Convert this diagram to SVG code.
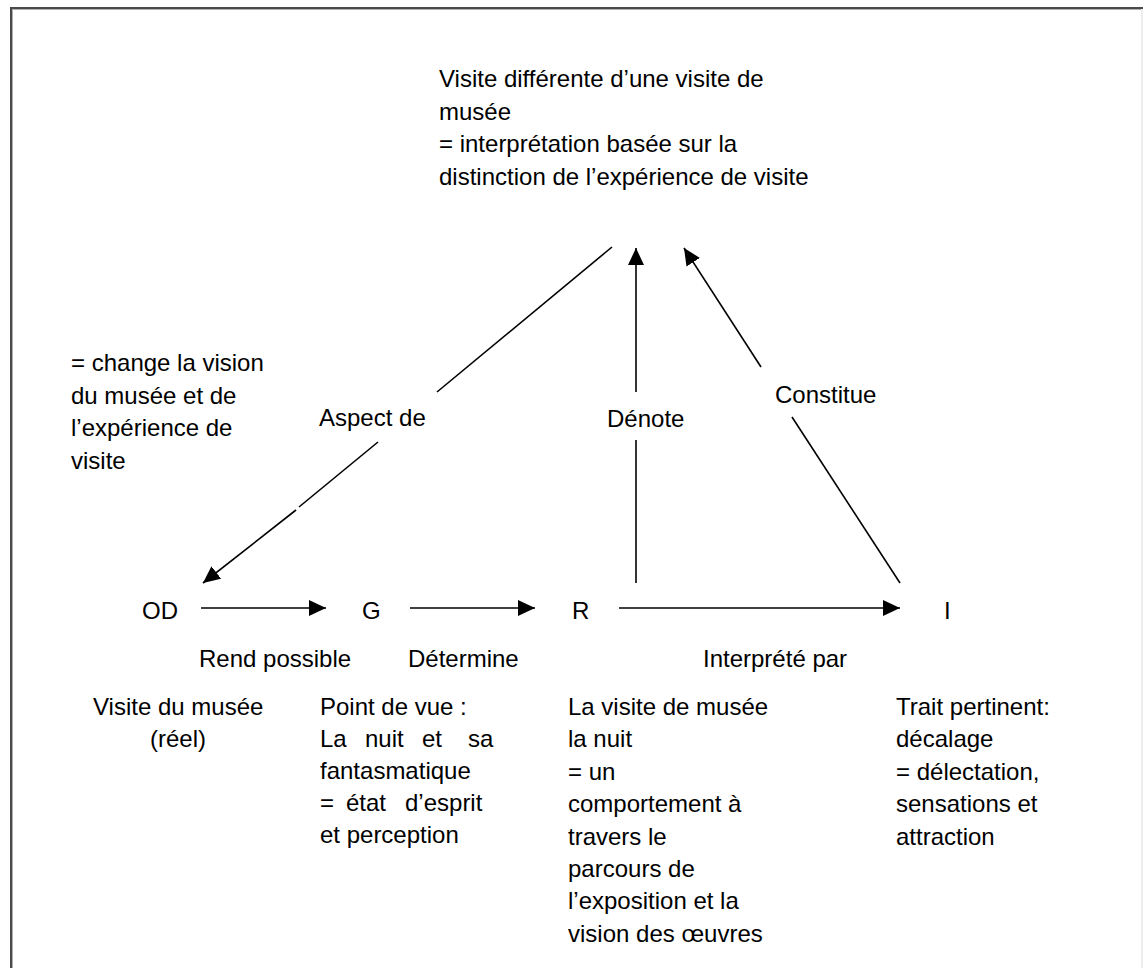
<svg xmlns="http://www.w3.org/2000/svg" width="1143" height="968" viewBox="0 0 1143 968">
<style>
  text { font-family: "Liberation Sans", Arial, sans-serif; font-size: 24px; fill: #000; }
  .ln { stroke: #000; stroke-width: 1.6; fill: none; }
</style>
<defs>
  <marker id="ah" markerUnits="userSpaceOnUse" markerWidth="18" markerHeight="16" refX="17" refY="8" orient="auto" viewBox="0 0 18 16">
    <path d="M0,0 L17,8 L0,16 z" fill="#000"/>
  </marker>
</defs>
<rect x="0" y="0" width="1143" height="968" fill="#fff"/>
<g id="frame">
  <line x1="10" y1="8" x2="1143" y2="8" stroke="#4a4a4a" stroke-width="2"/>
  <line x1="11" y1="7" x2="11" y2="968" stroke="#4a4a4a" stroke-width="2"/>
  <line x1="12" y1="9.5" x2="1141" y2="9.5" stroke="#b0b0b0" stroke-width="1"/>
  <line x1="12.5" y1="9" x2="12.5" y2="968" stroke="#b0b0b0" stroke-width="1"/>
  <line x1="1142" y1="9" x2="1142" y2="968" stroke="#dcdcdc" stroke-width="1"/>
</g>
<g id="connectors">
  <line class="ln" x1="201" y1="608" x2="326" y2="608" marker-end="url(#ah)"/>
  <line class="ln" x1="410" y1="608" x2="535" y2="608" marker-end="url(#ah)"/>
  <line class="ln" x1="619" y1="608" x2="900" y2="608" marker-end="url(#ah)"/>
  <line class="ln" x1="636" y1="583" x2="636" y2="440"/>
  <line class="ln" x1="636" y1="392" x2="636" y2="248" marker-end="url(#ah)"/>
  <line class="ln" x1="900" y1="583" x2="792" y2="417"/>
  <line class="ln" x1="761" y1="367" x2="684" y2="248" marker-end="url(#ah)"/>
  <line class="ln" x1="612" y1="247" x2="437" y2="392"/>
  <line class="ln" x1="378" y1="442" x2="299" y2="507"/>
  <line class="ln" x1="296" y1="510" x2="203" y2="583" marker-end="url(#ah)"/>
  <text x="319" y="426">Aspect de</text>
  <text x="607" y="427">Dénote</text>
  <text x="775" y="403">Constitue</text>
  <text x="199" y="667">Rend possible</text>
  <text x="408" y="667">Détermine</text>
  <text x="703" y="667">Interprété par</text>
</g>
<g id="node-top">
  <text x="439" y="87">Visite différente d’une visite de</text>
  <text x="439" y="119.5">musée</text>
  <text x="439" y="152">= interprétation basée sur la</text>
  <text x="439" y="184.5">distinction de l’expérience de visite</text>
</g>
<g id="note-left">
  <text x="71" y="371">= change la vision</text>
  <text x="71" y="403.5">du musée et de</text>
  <text x="71" y="436">l’expérience de</text>
  <text x="71" y="468.5">visite</text>
</g>
<g id="node-OD">
  <text x="142" y="619">OD</text>
  <text x="93" y="715">Visite du musée</text>
  <text x="150" y="747">(réel)</text>
</g>
<g id="node-G">
  <text x="362" y="619">G</text>
  <text x="320" y="715">Point de vue :</text>
  <text y="747"><tspan x="320">La</tspan><tspan x="365">nuit</tspan><tspan x="422">et</tspan><tspan x="468">sa</tspan></text>
  <text x="320" y="779">fantasmatique</text>
  <text y="811"><tspan x="320">=</tspan><tspan x="346">état</tspan><tspan x="405">d’esprit</tspan></text>
  <text x="320" y="843">et perception</text>
</g>
<g id="node-R">
  <text x="572" y="619">R</text>
  <text x="568" y="715">La visite de musée</text>
  <text x="568" y="747.4">la nuit</text>
  <text x="568" y="779.8">= un</text>
  <text x="568" y="812.2">comportement à</text>
  <text x="568" y="844.6">travers le</text>
  <text x="568" y="877">parcours de</text>
  <text x="568" y="909.4">l’exposition et la</text>
  <text x="568" y="941.8">vision des œuvres</text>
</g>
<g id="node-I">
  <text x="944" y="619">I</text>
  <text x="896" y="715">Trait pertinent:</text>
  <text x="896" y="747.4">décalage</text>
  <text x="896" y="779.8">= délectation,</text>
  <text x="896" y="812.2">sensations et</text>
  <text x="896" y="844.6">attraction</text>
</g>
</svg>
